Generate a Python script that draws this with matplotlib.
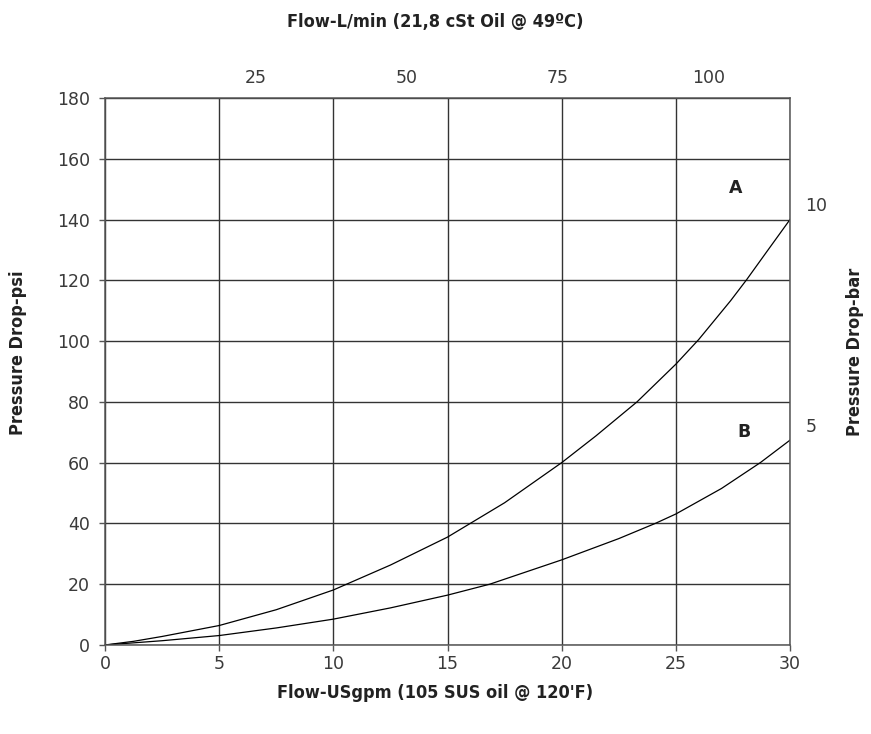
import numpy as np
import matplotlib.pyplot as plt

# pressure drop curves (flow in US gpm, drop in psi)
flow_a = [0, 1.25, 2.5, 5, 7.5, 10, 12.5, 15, 17.5, 20, 21.5, 23.3, 25, 26, 27.4, 28.1, 29, 30]
drop_a = [0, 1.2, 2.8, 6.4, 11.6, 18.1, 26.3, 35.5, 46.8, 60.0, 68.8, 80.0, 92.4, 100.5,
          113.3, 120.2, 129.6, 140.0]
flow_b = [0, 2.5, 5, 7.5, 10, 12.5, 15, 16.85, 20, 22.5, 24.1, 25, 27, 28.7, 30]
drop_b = [0, 1.4, 3.1, 5.6, 8.5, 12.2, 16.4, 20.0, 28.0, 35.0, 40.0, 43.1, 51.5, 60.0, 67.4]

x_ticks = [0, 5, 10, 15, 20, 25, 30]
y_ticks = [0, 20, 40, 60, 80, 100, 120, 140, 160, 180]
lpm_ticks = [25, 50, 75, 100]
bar_ticks = [5, 10]

GPM_TO_LPM = 3.785
PSI_PER_BAR = 14.5

label_font = {"family": ["DejaVu Sans Condensed", "DejaVu Sans"], "stretch": "condensed",
              "weight": "bold", "size": 13, "color": "#222222"}
tick_color = "#3a3a3a"

fig = plt.figure(figsize=(8.71, 7.34), dpi=100)
ax = fig.add_axes([0.1206, 0.1213, 0.7864, 0.7452])

ax.plot(flow_a, drop_a, color="black", lw=0.9)
ax.plot(flow_b, drop_b, color="black", lw=0.9)

ax.set_xlim(0, 30)
ax.set_ylim(0, 180)
ax.set_xticks(x_ticks)
ax.set_yticks(y_ticks)
ax.grid(True, color="#333333", lw=1.0)
ax.set_axisbelow(True)
for s in ax.spines.values():
    s.set_color("#555555")
    s.set_linewidth(1.1)
ax.tick_params(axis="both", direction="out", length=4, width=1.0,
               colors="#555555", labelcolor=tick_color, labelsize=12.5)
ax.tick_params(axis="x", pad=3)
ax.tick_params(axis="y", pad=7)

ax.text(27.6, 150.5, "A", ha="center", va="center",
        fontsize=12.5, fontweight="bold", color="#222222")
ax.text(28.0, 70.0, "B", ha="center", va="center",
        fontsize=12.5, fontweight="bold", color="#222222")

# top axis: L/min
top = ax.secondary_xaxis("top", functions=(lambda g: g * GPM_TO_LPM,
                                           lambda l: l / GPM_TO_LPM))
top.set_xticks(lpm_ticks)
top.tick_params(length=0, pad=8, labelsize=12.5, labelcolor=tick_color)
top.spines["top"].set_visible(False)

# right axis: bar
right = ax.secondary_yaxis("right", functions=(lambda p: p / PSI_PER_BAR,
                                               lambda b: b * PSI_PER_BAR))
right.set_yticks(bar_ticks)
right.tick_params(length=0, pad=11, labelsize=12.5, labelcolor=tick_color)
right.spines["right"].set_visible(False)

fig.text(0.5, 0.97, "Flow-L/min (21,8 cSt Oil @ 49ºC)", ha="center", va="center",
         fontdict=label_font)
fig.text(0.5, 0.056, "Flow-USgpm (105 SUS oil @ 120'F)", ha="center", va="center",
         fontdict=label_font)
fig.text(0.021, 0.52, "Pressure Drop-psi", ha="center", va="center",
         rotation=90, fontdict=label_font)
fig.text(0.982, 0.52, "Pressure Drop-bar", ha="center", va="center",
         rotation=90, fontdict=label_font)

fig.savefig("out.png", dpi=100)
